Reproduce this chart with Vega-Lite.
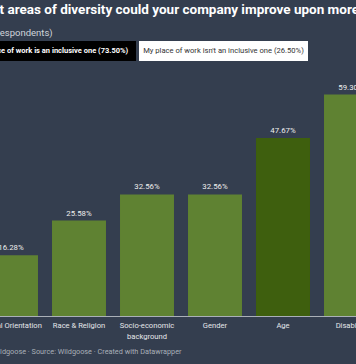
{
  "$schema": "https://vega.github.io/schema/vega-lite/v6.json",
  "autosize": {"type": "none"},
  "padding": {"top": 41, "left": 0, "right": 356, "bottom": 323},
  "background": "#343e4f",
  "bounds": "flush",
  "title": {
    "text": "What areas of diversity could your company improve upon more?",
    "subtitle": "(% of respondents)",
    "anchor": "start",
    "frame": "group",
    "dx": -27,
    "offset": 4,
    "font": "Roboto",
    "fontSize": 13.5,
    "fontWeight": "bold",
    "color": "#ffffff",
    "subtitleFont": "Roboto",
    "subtitleFontSize": 9.5,
    "subtitleColor": "#d0d4da",
    "subtitlePadding": 11
  },
  "config": {
    "view": {"stroke": null},
    "font": "Roboto",
    "concat": {"spacing": 31}
  },
  "vconcat": [
    {
      "width": 356,
      "height": 20,
      "data": {"values": [
        {"option": "My place of work is an inclusive one (73.50%)", "share": 0.735},
        {"option": "My place of work isn't an inclusive one (26.50%)", "share": 0.265}
      ]},
      "encoding": {
        "x": {"field": "option", "type": "nominal", "sort": null,
              "scale": {"range": [-33, 308], "paddingInner": 0.0174, "paddingOuter": 0},
              "axis": null}
      },
      "layer": [
        {
          "mark": {"type": "bar"},
          "encoding": {
            "color": {"condition": {"test": "datum.share > 0.5", "value": "#000000"}, "value": "#ffffff"}
          }
        },
        {
          "transform": [{"filter": "datum.share > 0.5"}],
          "mark": {"type": "text", "fontSize": 7.5, "fontWeight": "bold", "color": "#ffffff", "baseline": "middle"},
          "encoding": {"text": {"field": "option"}}
        },
        {
          "transform": [{"filter": "datum.share <= 0.5"}],
          "mark": {"type": "text", "fontSize": 7.6, "color": "#333333", "baseline": "middle"},
          "encoding": {"text": {"field": "option"}}
        }
      ]
    },
    {
      "width": 356,
      "height": 224,
      "data": {"values": [
        {"category": "Sexual Orientation", "share": 0.1628},
        {"category": "Race & Religion", "share": 0.2558},
        {"category": "Socio-economic background", "share": 0.3256},
        {"category": "Gender", "share": 0.3256},
        {"category": "Age", "share": 0.4767},
        {"category": "Disability", "share": 0.593}
      ]},
      "encoding": {
        "x": {
          "field": "category", "type": "nominal", "sort": null,
          "scale": {"range": [-23, 385], "paddingInner": 0.206, "paddingOuter": 0.103},
          "axis": {
            "labelAngle": 0,
            "labelFontSize": 7.6,
            "labelColor": "#e4e6ea",
            "labelPadding": 5,
            "labelLineHeight": 11,
            "ticks": false,
            "domainColor": "#aab0b8",
            "domainWidth": 1,
            "labelExpr": "datum.label == 'Socio-economic background' ? ['Socio-economic', 'background'] : datum.label",
            "title": "Chart: Wildgoose · Source: Wildgoose · Created with Datawrapper",
            "titleFontSize": 7.3,
            "titleFontWeight": "normal",
            "titleColor": "#a9afb8",
            "titleAnchor": "start",
            "titleAlign": "left",
            "titleX": -30,
            "titleY": 31
          }
        },
        "y": {"field": "share", "type": "quantitative", "scale": {"domain": [0, 0.6]}, "axis": null}
      },
      "layer": [
        {
          "mark": {"type": "bar"},
          "encoding": {
            "color": {"condition": {"test": "datum.category === 'Age'", "value": "#3e5f0e"}, "value": "#5f8232"}
          }
        },
        {
          "mark": {"type": "text", "baseline": "bottom", "dy": -3, "fontSize": 7.8, "color": "#eeeeee"},
          "encoding": {"text": {"field": "share", "type": "quantitative", "format": ".2%"}}
        }
      ]
    }
  ]
}
